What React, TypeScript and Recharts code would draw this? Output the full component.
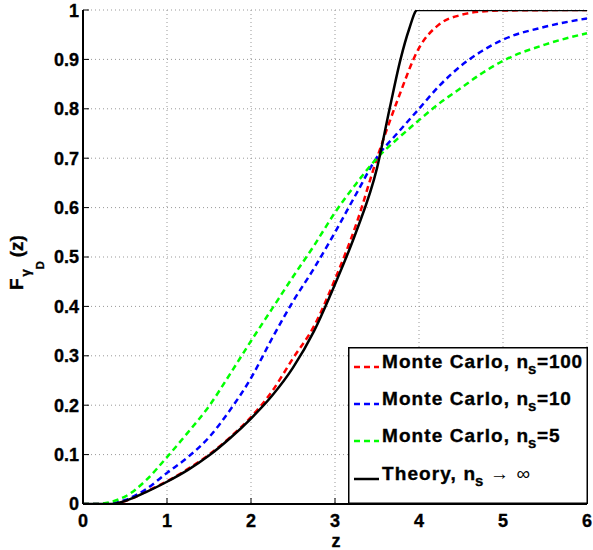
import { LineChart, Line, XAxis, YAxis, CartesianGrid, Legend } from "recharts";

const FONT = "'Liberation Sans', Arial, Helvetica, sans-serif";

const zTicks = [0, 1, 2, 3, 4, 5, 6];
const fTicks = [0, 0.1, 0.2, 0.3, 0.4, 0.5, 0.6, 0.7, 0.8, 0.9, 1];

// Monte Carlo, n_s = 100
const mc100Z = [0, 0.32, 0.5, 0.75, 1, 1.25, 1.5, 1.75, 2, 2.25, 2.5, 2.75, 3, 3.25, 3.5, 3.75, 4, 4.25, 4.5, 4.75, 5, 6];
const mc100F = [0, 0, 0.006, 0.025, 0.046, 0.071, 0.1, 0.135, 0.176, 0.228, 0.295, 0.36, 0.455, 0.565, 0.7, 0.82, 0.923, 0.972, 0.99, 0.997, 0.999, 1];

// Monte Carlo, n_s = 10
const mc10Z = [0, 0.22, 0.5, 0.75, 1, 1.25, 1.5, 1.75, 2, 2.25, 2.5, 2.75, 3, 3.25, 3.5, 3.75, 4, 4.25, 4.5, 4.75, 5, 5.5, 6];
const mc10F = [0, 0, 0.008, 0.03, 0.063, 0.095, 0.135, 0.19, 0.255, 0.335, 0.41, 0.477, 0.55, 0.627, 0.702, 0.752, 0.8, 0.848, 0.887, 0.917, 0.94, 0.966, 0.983];

// Monte Carlo, n_s = 5
const mc5Z = [0, 0.15, 0.5, 0.75, 1, 1.25, 1.5, 1.75, 2, 2.25, 2.5, 2.75, 3, 3.25, 3.5, 3.75, 4, 4.25, 4.5, 4.75, 5, 5.5, 6];
const mc5F = [0, 0, 0.015, 0.048, 0.095, 0.145, 0.198, 0.263, 0.33, 0.395, 0.46, 0.523, 0.59, 0.648, 0.7, 0.74, 0.777, 0.812, 0.842, 0.872, 0.897, 0.93, 0.953];

// Theory, n_s -> infinity
const theoryZ = [0, 0.32, 0.5, 0.75, 1, 1.25, 1.5, 1.75, 2, 2.25, 2.5, 2.75, 3, 3.25, 3.5, 3.65, 3.78, 3.88, 3.98, 6];
const theoryF = [0, 0, 0.006, 0.024, 0.045, 0.069, 0.098, 0.133, 0.173, 0.219, 0.276, 0.35, 0.445, 0.55, 0.68, 0.8, 0.9, 0.96, 1, 1];

const toPoints = (zs: number[], fs: number[]) => zs.map((z, i) => ({ z, f: fs[i] }));

const series = [
  { name: "mc100", color: "#ff0000", dash: "6 4", data: toPoints(mc100Z, mc100F), head: "Monte Carlo, n", tail: "=100" },
  { name: "mc10", color: "#0000ff", dash: "6 4", data: toPoints(mc10Z, mc10F), head: "Monte Carlo, n", tail: "=10" },
  { name: "mc5", color: "#00ff00", dash: "6 4", data: toPoints(mc5Z, mc5F), head: "Monte Carlo, n", tail: "=5" },
  { name: "theory", color: "#000000", dash: undefined, data: toPoints(theoryZ, theoryF), head: "Theory, n", tail: "→ ∞" },
];

const tickStyle = { fill: "#000", fontSize: 18, fontWeight: "bold", fontFamily: FONT, stroke: "#000", strokeWidth: 0.35 };

function LegendBox() {
  const baselines = [21, 58, 95, 133];
  return (
    <svg width={240} height={157} style={{ display: "block" }}>
      <rect x={0.75} y={0.75} width={238.5} height={155.5} fill="#fff" stroke="#000" strokeWidth={1.5} />
      {series.map((s, i) => {
        const theory = s.name === "theory";
        const headEnd = theory ? 127 : 180;
        const tailLen = theory ? 40 : s.tail.length * 11.3;
        return (
          <g key={s.name} fontFamily={FONT} fill="#000">
            <line
              x1={6}
              x2={31}
              y1={baselines[i] - 1}
              y2={baselines[i] - 1}
              stroke={s.color}
              strokeWidth={2.5}
              strokeDasharray={s.dash}
            />
            <text
              x={34}
              y={baselines[i]}
              fontSize={19}
              fontWeight="bold"
              stroke="#000"
              strokeWidth={0.35}
              textLength={headEnd - 34}
              lengthAdjust="spacing"
            >
              {s.head}
            </text>
            <text x={headEnd} y={baselines[i] + 6} fontSize={15} fontWeight="bold" stroke="#000" strokeWidth={0.3}>
              s
            </text>
            <text
              x={theory ? 142 : 189}
              y={baselines[i]}
              fontSize={19}
              fontWeight={theory ? "normal" : "bold"}
              stroke={theory ? "none" : "#000"}
              strokeWidth={0.35}
              textLength={tailLen}
              lengthAdjust="spacing"
            >
              {s.tail}
            </text>
          </g>
        );
      })}
    </svg>
  );
}

function YLabel() {
  return (
    <text
      transform="rotate(-90)"
      x={-290}
      y={23}
      fontFamily={FONT}
      fontWeight="bold"
      fontSize={19}
      fill="#000"
      stroke="#000"
      strokeWidth={0.35}
    >
      F
      <tspan dy={7} dx={2} fontSize={13}>γ</tspan>
      <tspan dy={14} fontSize={11}>D</tspan>
      <tspan dy={-21} dx={4} fontSize={19}>(z)</tspan>
    </text>
  );
}

function XLabel() {
  return (
    <text
      x={336}
      y={547}
      textAnchor="middle"
      fontFamily={FONT}
      fontWeight="bold"
      fontSize={18}
      fill="#000"
      stroke="#000"
      strokeWidth={0.35}
    >
      z
    </text>
  );
}

export default function App() {
  return (
    <div style={{ position: "absolute", left: 0, top: 0, background: "#fff" }}>
      <LineChart width={593} height={550} margin={{ top: 10, right: 6, bottom: 0, left: 0 }}>
        <CartesianGrid xAxisId="b" yAxisId="l" stroke="#999" strokeDasharray="1 3" />
        <XAxis
          xAxisId="b"
          dataKey="z"
          type="number"
          domain={[0, 6]}
          ticks={zTicks}
          allowDataOverflow
          height={46}
          tickSize={-6}
          tickMargin={16}
          axisLine={{ stroke: "#000", strokeWidth: 2 }}
          tickLine={{ stroke: "#000", strokeWidth: 1 }}
          tick={tickStyle}
          label={<XLabel />}
        />
        <XAxis
          xAxisId="t"
          orientation="top"
          type="number"
          domain={[0, 6]}
          ticks={zTicks}
          height={0}
          tickSize={-6}
          axisLine={{ stroke: "#000", strokeWidth: 2 }}
          tickLine={{ stroke: "#000", strokeWidth: 1 }}
          tick={false}
        />
        <YAxis
          yAxisId="l"
          type="number"
          domain={[0, 1]}
          ticks={fTicks}
          allowDataOverflow
          width={83}
          tickSize={-6}
          tickMargin={10}
          axisLine={{ stroke: "#000", strokeWidth: 2 }}
          tickLine={{ stroke: "#000", strokeWidth: 1 }}
          tick={tickStyle}
          tickFormatter={(v: number) => String(v)}
          label={<YLabel />}
        />
        <YAxis
          yAxisId="r"
          orientation="right"
          type="number"
          domain={[0, 1]}
          ticks={fTicks}
          width={0}
          tickSize={-6}
          axisLine={{ stroke: "#000", strokeWidth: 2 }}
          tickLine={{ stroke: "#000", strokeWidth: 1 }}
          tick={false}
        />
        {series.map((s) => (
          <Line
            key={s.name}
            xAxisId="b"
            yAxisId="l"
            data={s.data}
            dataKey="f"
            type="monotone"
            stroke={s.color}
            strokeWidth={2.5}
            strokeDasharray={s.dash}
            dot={false}
            activeDot={false}
            isAnimationActive={false}
          />
        ))}
        <Legend
          layout="vertical"
          align="center"
          verticalAlign="middle"
          content={() => <LegendBox />}
          wrapperStyle={{ left: 348, top: 347, width: 240, height: 157 }}
        />
      </LineChart>
    </div>
  );
}
